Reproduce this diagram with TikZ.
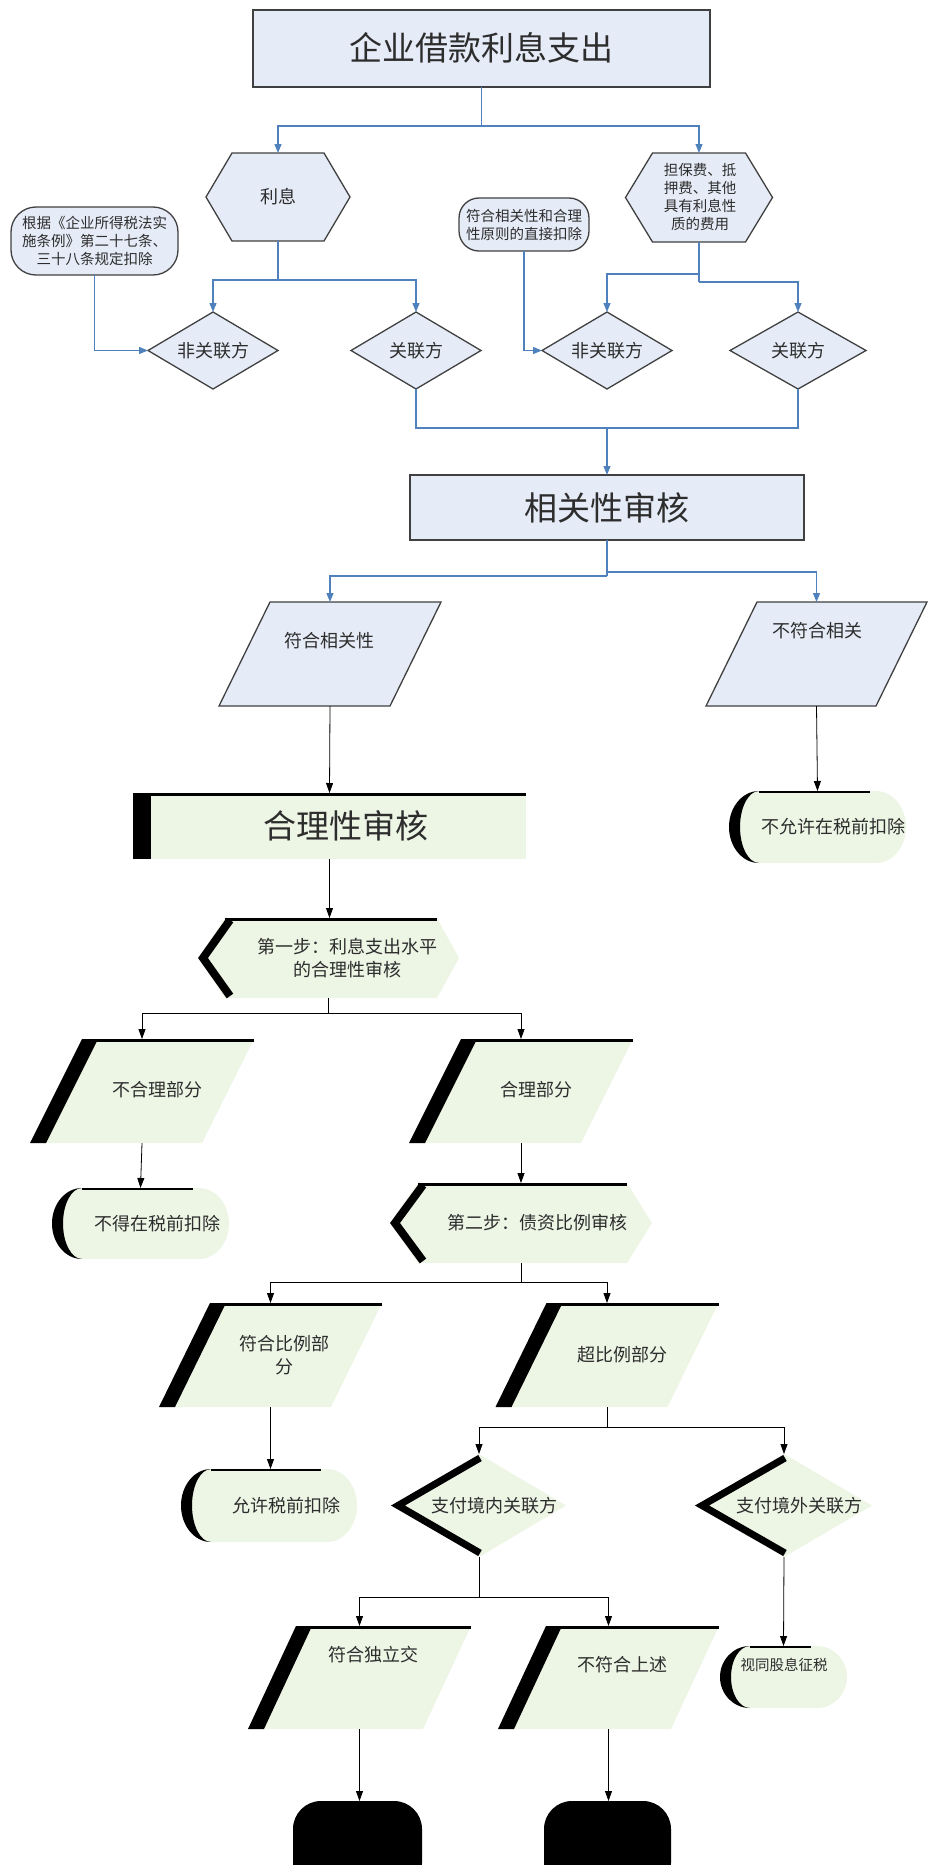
\documentclass[tikz,border=0pt]{standalone}
\usepackage{fontspec}
\newfontfamily\cjk{Noto Sans CJK SC}
\usetikzlibrary{arrows.meta,calc}
\definecolor{bfill}{RGB}{230,236,247}
\definecolor{gfill}{RGB}{237,245,229}
\definecolor{bline}{RGB}{79,129,189}
\definecolor{dk}{RGB}{64,64,64}
\definecolor{tx}{RGB}{45,45,45}
\tikzset{
  txt/.style={text=tx, font=\cjk\fontsize{18}{23}\selectfont, align=center, inner sep=0pt},
  stxt/.style={text=tx, font=\cjk\fontsize{14.5}{18}\selectfont, align=center, inner sep=0pt},
  btxt/.style={text=tx, font=\cjk\fontsize{33}{40}\selectfont, inner sep=0pt},
  bl/.style={draw=bline, line width=1.3pt},
  barr/.style={bl, -{Triangle[width=7pt,length=9pt]}},
  kl/.style={draw=black, line width=0.8pt},
  karr/.style={kl, -{Triangle[width=7pt,length=10pt]}},
  bshape/.style={fill=bfill, draw=dk, line width=1.3pt, line join=miter},
}
\newcommand\fr[5]{\node[inner sep=0pt, outer sep=0pt, minimum width=#4pt, minimum height=#5pt] (#1) at (#2,#3) {};}
% blue parallelogram: name, slant
\newcommand\BPara[2]{\draw[bshape] ($(#1.north west)+(#2,0)$) -- (#1.north east) -- ($(#1.south east)-(#2,0)$) -- (#1.south west) -- cycle;}
% green parallelogram: name, slant
\newcommand\GPara[2]{%
  \fill[gfill] ($(#1.north west)+(#2,0)$) -- (#1.north east) -- ($(#1.south east)-(#2,0)$) -- (#1.south west) -- cycle;
  \fill[black] ($(#1.north west)+(#2,0)$) -- ++(16,0) -- ($(#1.south west)+(16,0)$) -- (#1.south west) -- cycle;
  \draw[line width=3pt] ($(#1.north west)+(#2,1)$) -- ($(#1.north east)+(0,1)$);}
% blue hexagon: name, depth
\newcommand\BHex[2]{\draw[bshape] ($(#1.north west)+(#2,0)$) -- ($(#1.north east)-(#2,0)$) -- (#1.east) -- ($(#1.south east)-(#2,0)$) -- ($(#1.south west)+(#2,0)$) -- (#1.west) -- cycle;}
% green display shape: name, left depth, right depth
\newcommand\GDisp[3]{%
  \fill[gfill] ($(#1.north west)+(#2,0)$) -- ($(#1.north east)-(#3,0)$) -- (#1.east) -- ($(#1.south east)-(#3,0)$) -- ($(#1.south west)+(#2,0)$) -- (#1.west) -- cycle;
  \draw[line width=8pt, line join=miter] ($(#1.north west)+(#2,0)+(5,2)$) -- ($(#1.west)+(5,0)$) -- ($(#1.south west)+(#2,0)+(5,-2)$);
  \draw[line width=3pt] ($(#1.north west)+(#2,1)$) -- ($(#1.north east)-(#3,-1)$);}
% green terminal: name, half height
\newcommand\GTerm[2]{%
  \fill[gfill] ($(#1.north west)+(30,0)$) -- ($(#1.north east)-(30,0)$) arc[start angle=90, end angle=-90, x radius=30pt, y radius=#2pt] -- ($(#1.south west)+(30,0)$) arc[start angle=270, end angle=90, x radius=30pt, y radius=#2pt] -- cycle;
  \fill[black] ($(#1.north west)+(30,0)$) arc[start angle=90, end angle=270, x radius=30pt, y radius=#2pt] arc[start angle=270, end angle=90, x radius=19pt, y radius=#2pt] -- cycle;
  \draw[line width=2.5pt] ($(#1.north west)+(30,1)$) -- ($(#1.north east)-(36,-1)$);}
% green diamond: name
\newcommand\GDia[1]{%
  \fill[gfill] (#1.north) -- (#1.east) -- (#1.south) -- (#1.west) -- cycle;
  \draw[line width=7pt, line join=miter] ($(#1.north)+(1,4)$) -- ($(#1.west)+(6,0)$) -- ($(#1.south)+(1,-4)$);}
\begin{document}
\begin{tikzpicture}[x=1pt,y=-1pt]
\useasboundingbox (0,0) rectangle (929,1865);
% frames
\fr{top}{481.5}{48.5}{457}{77}
\fr{lixi}{278}{197}{144}{88}
\fr{dbf}{699}{197.5}{147}{89}
\fr{law}{94.5}{241}{167}{68}
\fr{mid}{524}{224.5}{130}{53}
\fr{d1}{213}{350.5}{130}{77}
\fr{d2}{416}{350.5}{130}{77}
\fr{d3}{607}{350.5}{130}{77}
\fr{d4}{798}{350.5}{136}{77}
\fr{rel}{607}{507.5}{394}{65}
\fr{p1}{330}{654}{222}{104}
\fr{p2}{816.5}{654}{221}{104}
\fr{rea}{329.5}{826}{393}{66}
\fr{t1}{817.5}{827}{177}{72}
\fr{s1}{328.5}{958}{261}{80}
\fr{p3}{142}{1091}{224}{104}
\fr{p4}{521}{1091}{224}{104}
\fr{t2}{140.5}{1223.5}{177}{71}
\fr{s2}{521}{1223}{262}{80}
\fr{p5}{270.5}{1355}{223}{104}
\fr{p6}{607}{1355}{223}{104}
\fr{t3}{269}{1505.5}{176}{73}
\fr{d5}{479}{1505.5}{174}{103}
\fr{d6}{784}{1505.5}{176}{103}
\fr{p7}{359.5}{1677.5}{223}{103}
\fr{p8}{608.5}{1677.5}{221}{103}
\fr{t4}{783.5}{1677}{127}{62}
\fr{b1}{357.5}{1846}{129}{90}
\fr{b2}{607.5}{1846}{127}{90}
% shapes
\draw[bshape] (top.north west) rectangle (top.south east);
\BHex{lixi}{26}
\BHex{dbf}{27}
\draw[bshape, rounded corners=25pt] (law.north west) rectangle (law.south east);
\draw[bshape, rounded corners=20pt] (mid.north west) rectangle (mid.south east);
\foreach \d in {d1,d2,d3,d4}{\draw[bshape] (\d.north) -- (\d.east) -- (\d.south) -- (\d.west) -- cycle;}
\draw[bshape] (rel.north west) rectangle (rel.south east);
\BPara{p1}{51}
\BPara{p2}{51}
\fill[gfill] (rea.north west) rectangle (rea.south east);
\fill[black] (rea.north west) rectangle ($(rea.south west)+(18,0)$);
\draw[line width=3pt] ($(rea.north west)+(0,1)$) -- ($(rea.north east)+(0,1)$);
\GTerm{t1}{36}
\GDisp{s1}{27}{22}
\GPara{p3}{52}
\GPara{p4}{52}
\GTerm{t2}{35.5}
\GDisp{s2}{28}{25}
\GPara{p5}{51}
\GPara{p6}{51}
\GTerm{t3}{36.5}
\GDia{d5}
\GDia{d6}
\GPara{p7}{48}
\GPara{p8}{48}
\GTerm{t4}{31}
\fill[black, rounded corners=28pt] (b1.north west) rectangle (b1.south east);
\fill[black, rounded corners=28pt] (b2.north west) rectangle (b2.south east);
% texts
\node[btxt] (top-t) at (481.5,48) {企业借款利息支出};
\node[txt] (lixi-t) at (278,197) {利息};
\node[stxt] (dbf-t) at (700,197) {担保费、抵\\押费、其他\\具有利息性\\质的费用};
\node[stxt] (law-t) at (94.5,241) {根据《企业所得税法实\\施条例》第二十七条、\\三十八条规定扣除};
\node[stxt] (mid-t) at (524,224.5) {符合相关性和合理\\性原则的直接扣除};
\node[txt] (d1-t) at (213,350.5) {非关联方};
\node[txt] (d2-t) at (416,350.5) {关联方};
\node[txt] (d3-t) at (607,350.5) {非关联方};
\node[txt] (d4-t) at (798,350.5) {关联方};
\node[btxt] (rel-t) at (607,507.5) {相关性审核};
\node[txt] (p1-t) at (329,641) {符合相关性};
\node[txt] (p2-t) at (817,631) {不符合相关};
\node[btxt] (rea-t) at (346,826) {合理性审核};
\node[txt] (t1-t) at (833,827) {不允许在税前扣除};
\node[txt] (s1-t) at (347,958) {第一步：利息支出水平\\的合理性审核};
\node[txt] (p3-t) at (157,1090) {不合理部分};
\node[txt] (p4-t) at (536,1090) {合理部分};
\node[txt] (t2-t) at (157,1223.5) {不得在税前扣除};
\node[txt] (s2-t) at (537,1223) {第二步：债资比例审核};
\node[txt] (p5-t) at (284,1355) {符合比例部\\分};
\node[txt] (p6-t) at (622,1355) {超比例部分};
\node[txt] (t3-t) at (286,1505.5) {允许税前扣除};
\node[txt] (d5-t) at (494,1505.5) {支付境内关联方};
\node[txt] (d6-t) at (799,1505.5) {支付境外关联方};
\node[txt] (p7-t) at (373,1655) {符合独立交};
\node[txt] (p8-t) at (622,1665) {不符合上述};
\node[stxt] (t4-t) at (784,1665) {视同股息征税};
% blue connectors
\coordinate (j1) at ($(top.south)+(0,39)$);
\draw[bl] (top.south) -- (j1);
\draw[barr] (j1) -| (lixi.north);
\draw[barr] (j1) -| (dbf.north);
\coordinate (j2) at ($(lixi.south)+(0,39)$);
\draw[bl] (lixi.south) -- (j2);
\draw[barr] (j2) -| (d1.north);
\draw[barr] (j2) -| (d2.north);
\coordinate (j3a) at ($(dbf.south)+(0,32)$);
\coordinate (j3b) at ($(dbf.south)+(0,40)$);
\draw[bl] (dbf.south) -- (j3b);
\draw[barr] (j3a) -| (d3.north);
\draw[barr] (j3b) -| (d4.north);
\draw[barr] (law.south) |- (d1.west);
\draw[barr] (mid.south) |- (d3.west);
\coordinate (j4) at ($(d2.south)+(0,39)$);
\draw[bl] (d2.south) -- (j4) -| (d4.south);
\draw[barr] (rel.north |- j4) -- (rel.north);
\coordinate (j5a) at ($(rel.south)+(0,36)$);
\coordinate (j5b) at ($(rel.south)+(0,32)$);
\draw[bl] (rel.south) -- (j5a);
\draw[barr] (j5a) -| (p1.north);
\draw[barr] (j5b) -| (p2.north);
% black connectors
\draw[karr] (p1.south) -- (rea.north);
\draw[karr] (p2.south) -- (t1.north);
\draw[karr] (rea.south) -- (rea.south |- s1.north);
\coordinate (j6) at ($(s1.south)+(0,15)$);
\draw[kl] (s1.south) -- (j6);
\draw[karr] (j6) -| (p3.north);
\draw[karr] (j6) -| (p4.north);
\draw[karr] (p3.south) -- (t2.north);
\draw[karr] (p4.south) -- (s2.north);
\coordinate (j7) at ($(s2.south)+(0,19)$);
\draw[kl] (s2.south) -- (j7);
\draw[karr] (j7) -| (p5.north);
\draw[karr] (j7) -| (p6.north);
\draw[karr] (p5.south) -- (p5.south |- t3.north);
\coordinate (j8) at ($(p6.south)+(0,20)$);
\draw[kl] (p6.south) -- (j8);
\draw[karr] (j8) -| (d5.north);
\draw[karr] (j8) -| (d6.north);
\coordinate (j9) at ($(d5.south)+(0,40)$);
\draw[kl] (d5.south) -- (j9);
\draw[karr] (j9) -| (p7.north);
\draw[karr] (j9) -| (p8.north);
\draw[karr] (d6.south) -- (t4.north);
\draw[karr] (p7.south) -- (p7.south |- b1.north);
\draw[karr] (p8.south) -- (p8.south |- b2.north);
\end{tikzpicture}
\end{document}
